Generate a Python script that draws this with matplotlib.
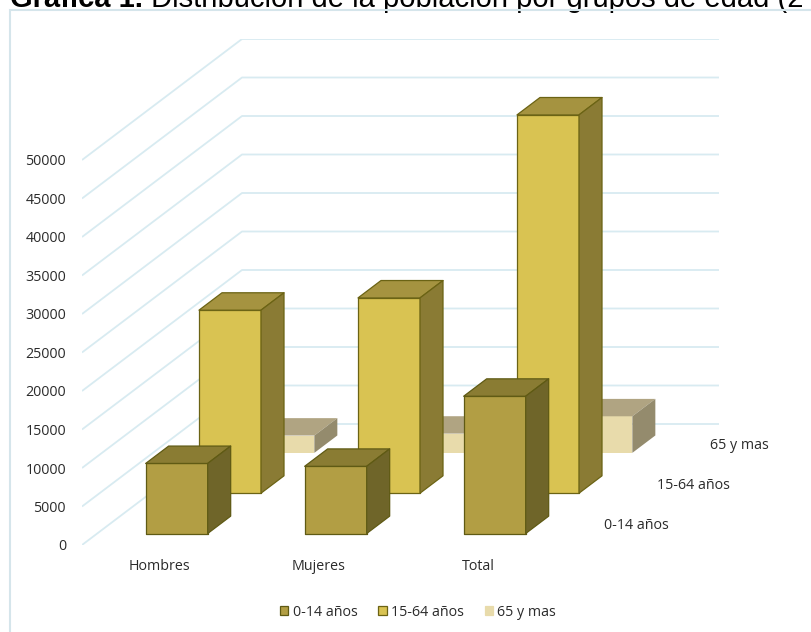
import matplotlib
matplotlib.use("Agg")
import matplotlib.pyplot as plt
from matplotlib.patches import Polygon, Patch, Rectangle

plt.rcParams["font.family"] = ["Open Sans", "DejaVu Sans"]

# ── Datos ──
categorias = ["Hombres", "Mujeres", "Total"]
grupos = ["0-14 años", "15-64 años", "65 y mas"]
pob_0_14 = [9100, 8730, 17830]
pob_15_64 = [23770, 25360, 49130]
pob_65_mas = [2250, 2500, 4750]
ticks_y = list(range(0, 50001, 5000))

series = [pob_0_14, pob_15_64, pob_65_mas]

# colores por serie: frente, tapa, lateral, borde
colores = [
    ("#B29E44", "#8A7C33", "#6F6529", "#5F5A14"),
    ("#D9C352", "#A59340", "#8A7B34", "#6B6314"),
    ("#E8DBAB", "#B0A482", "#948B6D", "none"),
]

# ── Geometría de la vista 3D (proyección oblicua) ──
W, H = 811, 632
PX_CAT = 159.0              # px por categoría en el plano frontal
PX_VAL = 38.5 / 5000        # px por habitante
DX = 160 / PX_CAT           # profundidad total en unidades de categoría
DY = 121 / PX_VAL           # profundidad total en unidades de valor
ANCHO = 0.39                # ancho de barra
FONDO = 23 / 160            # profundidad de barra (fracción del total)
X0_PX, Y0_PX = 82, 545      # esquina frontal izquierda del suelo

XMAX = len(categorias) + DX
YMAX = 50000 + DY


def proy(x, y, d):
    return (x + d * DX, y + d * DY)


fig = plt.figure(figsize=(W / 100, H / 100), dpi=100)
ax = fig.add_axes([X0_PX / W, (H - Y0_PX) / H,
                   XMAX * PX_CAT / W, YMAX * PX_VAL / H])
ax.set_xlim(0, XMAX)
ax.set_ylim(0, YMAX)

# líneas de división: diagonal lateral + horizontal de la pared del fondo
for v in ticks_y:
    ax.plot([0, DX, XMAX], [v, v + DY, v + DY], color="#D8EBF1",
            lw=1.3, zorder=0, solid_capstyle="butt")

# barras: de la fila del fondo hacia la frontal
for k in reversed(range(len(series))):
    frente, tapa, lado, borde = colores[k]
    lw = 0.9 if borde != "none" else 0
    d0 = (k + 0.5) / 3 - FONDO / 2
    d1 = d0 + FONDO
    for i, v in enumerate(series[k]):
        x0 = i + 0.5 - ANCHO / 2
        x1 = x0 + ANCHO
        caras = [
            ([proy(x0, 0, d0), proy(x1, 0, d0), proy(x1, v, d0), proy(x0, v, d0)], frente),
            ([proy(x0, v, d0), proy(x1, v, d0), proy(x1, v, d1), proy(x0, v, d1)], tapa),
            ([proy(x1, 0, d0), proy(x1, 0, d1), proy(x1, v, d1), proy(x1, v, d0)], lado),
        ]
        for pts, c in caras:
            ax.add_patch(Polygon(pts, closed=True, fc=c, ec=borde, lw=lw,
                                 joinstyle="round", zorder=2))

# etiquetas de profundidad (series)
for k, g in enumerate(grupos):
    dc = (k + 0.5) / 3
    ax.annotate(g, xy=proy(len(categorias), 0, dc), xytext=(18, -1),
                textcoords="offset pixels", ha="left", va="center",
                fontsize=10.3, color="#2b2b2b")

ax.set_yticks(ticks_y)
ax.set_yticklabels([str(t) for t in ticks_y])
ax.set_xticks([i + 0.49 for i in range(len(categorias))])
ax.set_xticklabels(categorias)
ax.tick_params(axis="y", length=0, pad=11.5, labelsize=10.3, labelcolor="#2b2b2b")
ax.tick_params(axis="x", length=0, pad=10, labelsize=10.3, labelcolor="#2b2b2b")
for s in ax.spines.values():
    s.set_visible(False)
ax.patch.set_visible(False)

# leyenda
handles = [Patch(fc=colores[k][0], ec=colores[k][3] if colores[k][3] != "none" else colores[k][0],
                 lw=0.9) for k in range(len(grupos))]
fig.legend(handles, grupos, loc="center", bbox_to_anchor=(418 / W, 1 - 612 / H),
           ncol=3, frameon=False, fontsize=10.3, handlelength=0.6,
           handleheight=0.6, handletextpad=0.3, columnspacing=1.45,
           labelcolor="#2b2b2b")

# marco del área del gráfico
fig.patches.append(Rectangle((10 / W, -0.1), 1.2, 1.1 - 10 / H,
                             transform=fig.transFigure, fill=False,
                             ec="#D5E5EB", lw=1.5))

# título
t1 = fig.text(10 / W, 1 - 7 / H, "Gráfica 1.", fontsize=21, fontweight="bold",
              family="Liberation Sans", va="baseline", ha="left")
ax.annotate(" Distribución de la población por grupos de edad (2", xy=(1, 0),
            xycoords=t1, ha="left", va="bottom", fontsize=21,
            family="Liberation Sans", annotation_clip=False)

fig.savefig("out.png", dpi=100)
plt.close(fig)
